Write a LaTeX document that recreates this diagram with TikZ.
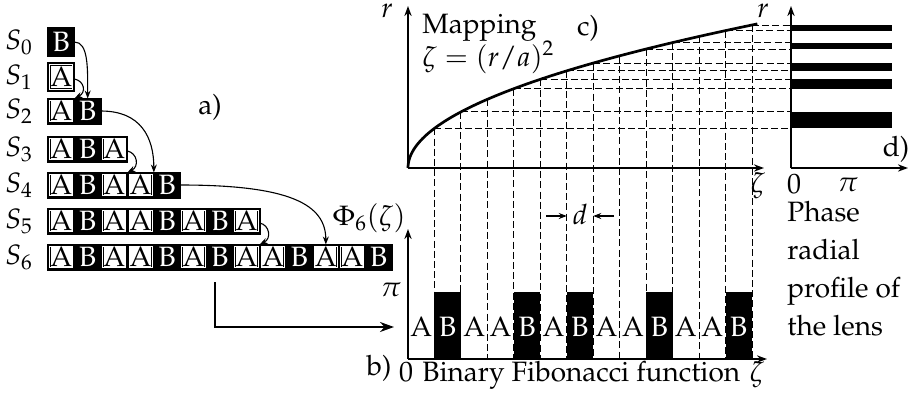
\documentclass[tikz,border=0pt]{standalone}
\usepackage[T1]{fontenc}
\usepackage{mathpazo}
\usetikzlibrary{arrows.meta}
\tikzset{
  cellbase/.style={draw=black,fill=black,line width=1pt,minimum width=13.23pt,inner sep=0pt,outer sep=0pt,font=\fontsize{14}{14}\selectfont},
  cellA/.style={cellbase,text=black,
    path picture={\draw[draw=black,double=white,double distance=0.45pt,line width=0.35pt,fill=white]
      ([shift={(0.8pt,0.8pt)}]path picture bounding box.south west) rectangle
      ([shift={(-0.8pt,-0.8pt)}]path picture bounding box.north east);}},
  cellB/.style={cellbase,text=white},
  barA/.style={inner sep=0pt,text=black},
  barB/.style={inner sep=0pt,text=white},
  axis/.style={line width=1pt,-{Stealth[length=5pt,width=3.6pt]}},
  curvy/.style={line width=1.35pt},
  dsh/.style={line width=0.45pt,dash pattern=on 3.5pt off 1.6pt},
  thinarr/.style={line width=0.55pt,-{Stealth[length=4pt,width=3pt]}},
  bigarr/.style={line width=1pt,-{Stealth[length=7pt,width=5pt]}},
  lbl/.style={inner sep=0pt},
}
\begin{document}
\begin{tikzpicture}[x=0.5pt,y=-0.5pt,font=\fontsize{14}{16}\selectfont]
\useasboundingbox (0,0) rectangle (916,402);

% ---------- a) Fibonacci strings ----------
\foreach \r/\w/\y/\h in {0/{B}/42/14,1/{A}/77/14,2/{A,B}/111/12.5,3/{A,B,A}/149/12.5,4/{A,B,A,A,B}/185/12.5,5/{A,B,A,A,B,A,B,A}/221/12.5,6/{A,B,A,A,B,A,B,A,A,B,A,A,B}/257/12.5}{
  \node[lbl] (s\r) at (19,\y) {$S_{\r}$};
  \foreach \c [count=\i from 0] in \w {
    \node[cell\c,minimum height=\h pt] (r\r c\i) at ({48+26.46*(\i+0.5)},\y) {\c};
  }
}
\node[lbl] (alab) at (210,107) {a)};

% arrows between strings
\draw[thinarr] (r0c0.east) .. controls +(14,0) and +(0,-30) .. (r2c1.north);
\draw[thinarr] ([yshift=-1pt]r1c0.east) .. controls +(10,2) and +(12,-6) .. (r2c0.north east);
\draw[thinarr] (r2c1.east) .. controls +(40,0) and +(0,-35) .. (r4c3.north east);
\draw[thinarr] ([yshift=-1pt]r3c2.east) .. controls +(10,2) and +(12,-6) .. (r4c2.north east);
\draw[thinarr] (r4c4.east) .. controls +(110,0) and +(0,-40) .. (r6c10.north);
\draw[thinarr] ([yshift=-1pt]r5c7.east) .. controls +(10,2) and +(12,-6) .. (r6c7.north east);

\node[lbl] (phi) at (369,218) {$\Phi_6(\zeta)$};

% arrow from a) to b)
\coordinate (fromA) at (215,282);
\coordinate (bend) at (215,327);
\coordinate (toB) at (394,327);
\draw[bigarr] (fromA) -- (bend) -- (toB);

% ---------- dashed mapping lines ----------
\foreach \k in {1,...,13}{
  \draw[dsh] ({408+26.46*\k},{168-143*sqrt(\k/13)}) -- ({408+26.46*\k},359);
}
\foreach \k in {1,2,4,5,6,7,9,10,12,13}{
  \draw[dsh] ({408+26.46*\k},{168-143*sqrt(\k/13)}) -- (791,{168-143*sqrt(\k/13)});
}

% ---------- b) binary function ----------
\foreach \i in {1,4,6,9,12}{
  \fill ({408+26.46*\i},291.5) rectangle ({408+26.46*(\i+1)},359);
}
\foreach \c [count=\i from 0] in {A,B,A,A,B,A,B,A,A,B,A,A,B}{
  \node[bar\c] (b\i) at ({408+26.46*(\i+0.5)},327) {\c};
}
\draw[axis] (408,359) -- (408,229);
\draw[axis] (408,359) -- (767,359);
\node[lbl] (pib) at (391,290) {$\pi$};
\node[lbl,anchor=base] (blab) at (379,375) {b)};
\node[lbl,anchor=base] (b0) at (406,381) {0};
\node[lbl,anchor=base west] (bname) at (422,381) {Binary Fibonacci function};
\node[lbl,anchor=base] (bzeta) at (757,381) {$\zeta$};

% ---------- c) mapping ----------
\draw[curvy] plot[domain=0:1.008,samples=80] ({408+344*\x*\x},{168-143*\x});
\draw[axis] (408,168) -- (408,6);
\draw[axis] (408,168) -- (764,168);
\node[lbl] (rl) at (387,11) {$r$};
\node[lbl] (rr) at (763,11) {$r$};
\node[lbl,anchor=base west] (mapp) at (422,33) {Mapping};
\node[lbl,anchor=base west] (eq) at (422,66) {$\zeta=(r/a)^2$};
\node[lbl,anchor=base] (clab) at (588,35) {c)};
\node[lbl] (czeta) at (758,186) {$\zeta$};

% d spacing label
\node[lbl] (dd) at (580,214) {$d$};
\coordinate (dL0) at (546,216);
\coordinate (dL1) at ({408+26.46*6},216);
\coordinate (dR0) at (614,216);
\coordinate (dR1) at ({408+26.46*7},216);
\draw[thinarr] (dL0) -- (dL1);
\draw[thinarr] (dR0) -- (dR1);

% ---------- d) phase profile ----------
\foreach \a/\b in {1/2,4/5,6/7,9/10,12/13}{
  \fill (791,{168-143*sqrt(\a/13)}) rectangle (892,{168-143*sqrt(\b/13)});
}
\draw[axis] (791,168) -- (791,6);
\draw[axis] (791,168) -- (908,168);
\node[lbl] (d0) at (794,184) {0};
\node[lbl] (dpi) at (848,185) {$\pi$};
\node[lbl,anchor=base] (dlab) at (896,156) {d)};
\node[lbl,anchor=north west,align=left,font=\fontsize{14}{19}\selectfont] (phase) at (787,201) {Phase\\radial\\profile of\\the lens};
\end{tikzpicture}
\end{document}
